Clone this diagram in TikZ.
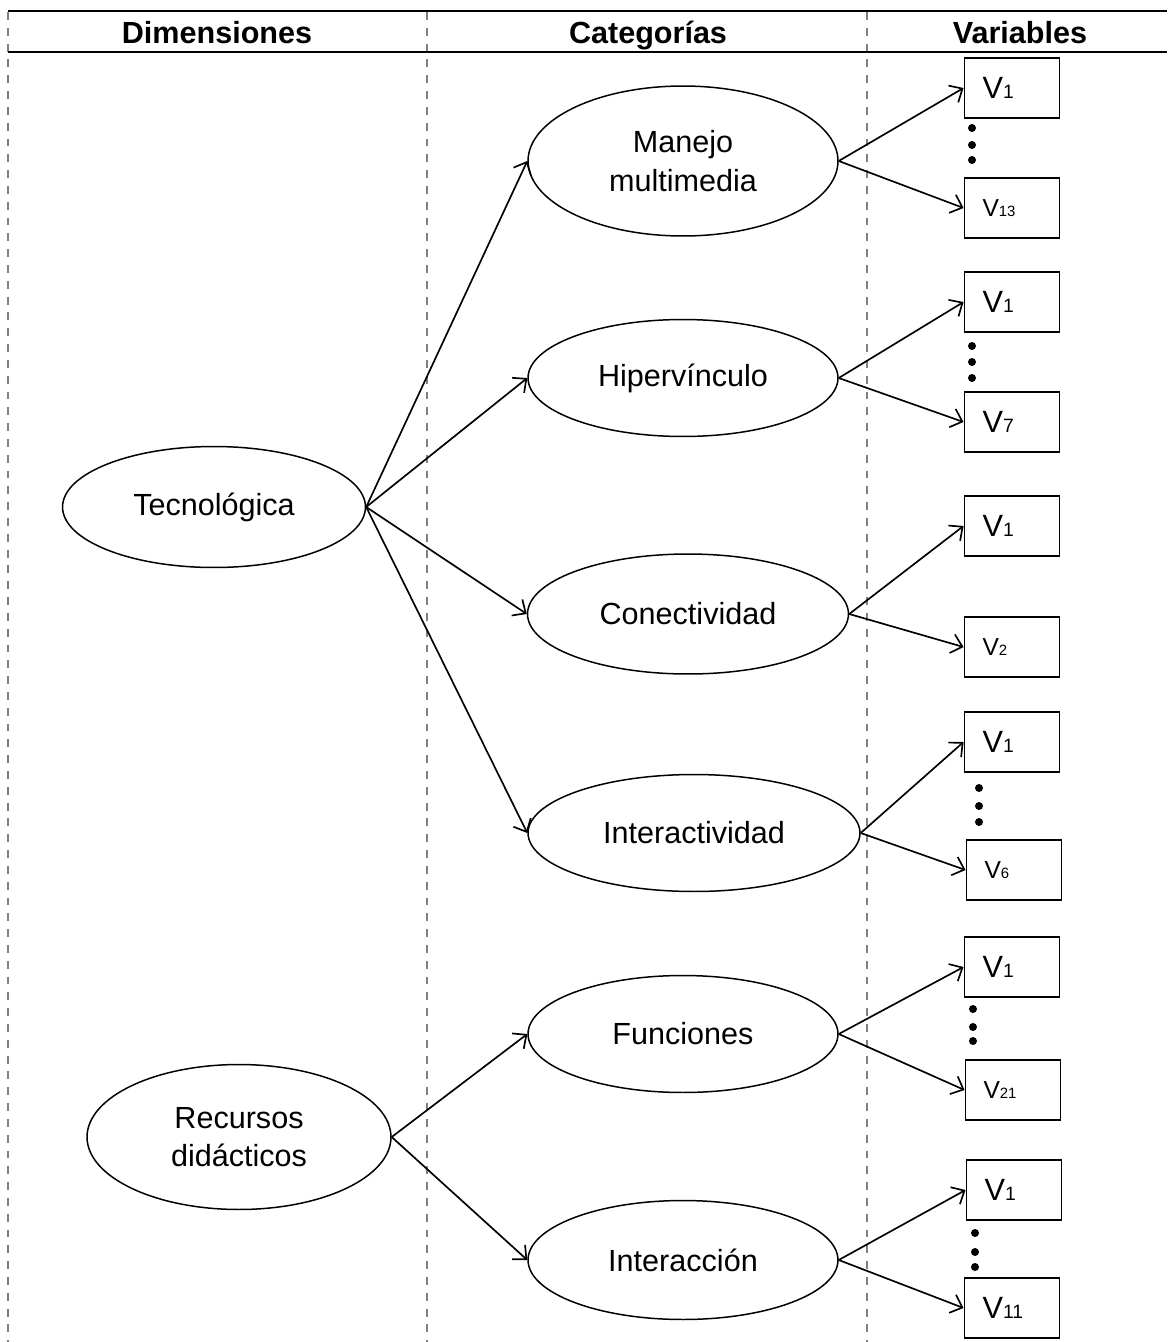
\documentclass[tikz,border=0pt]{standalone}
\usepackage{fontspec}
\setmainfont{Liberation Sans}
\usetikzlibrary{arrows.meta,shapes.geometric}
\newcommand{\VA}[1]{{\fontsize{17.5}{20}\selectfont V}{\fontsize{11}{12}\selectfont #1}}
\newcommand{\VB}[1]{{\fontsize{14}{16}\selectfont V}{\fontsize{8.5}{10}\selectfont #1}}
\begin{document}
\begin{tikzpicture}[x=0.02cm,y=-0.02cm,
  ell/.style n args={2}{ellipse, draw, line width=0.85pt, inner sep=0pt,
     minimum width=#1 cm, minimum height=#2 cm, align=center,
     font=\fontsize{17.4}{22}\selectfont},
  vbox/.style={draw, line width=1.1pt, rectangle, minimum height=1.2cm,
     text width=1.18cm, inner xsep=0.36cm, inner ysep=0pt, align=left},
  arr/.style={line width=0.95pt, -{Straight Barb[length=6pt,width=11pt]}},
  vdash/.style={gray, line width=0.6pt, dash pattern=on 4.5pt off 4.5pt},
  head/.style={anchor=base, font=\bfseries\fontsize{17.4}{20}\selectfont},
  dot/.style={fill=black}]
\useasboundingbox (0,0) rectangle (1167,1342);
% dashed column lines
\draw[vdash] (8,12) -- (8,1342);
\draw[vdash] (427,12) -- (427,1342);
\draw[vdash] (867,12) -- (867,1342);
% header rules
\draw[line width=1.1pt] (8,11) -- (1167,11);
\draw[line width=1.1pt] (8,52) -- (1167,52);
\node[head] (h1) at (217,43) {Dimensiones};
\node[head] (h2) at (648,43) {Categorías};
\node[head] (h3) at (1020,43) {Variables};
% dimensions
\node[ell={6.06}{2.42}] (tec) at (214,507) {Tecnológica};
\node[ell={6.08}{2.90}] (rec) at (239,1137) {Recursos\\didácticos};
% categories
\node[ell={6.2}{3.0}] (mm) at (683,161) {Manejo\\multimedia};
\node[ell={6.2}{2.34}] (hip) at (683,378) {Hipervínculo};
\node[ell={6.42}{2.4}] (con) at (688,614) {Conectividad};
\node[ell={6.64}{2.34}] (int) at (694,833) {Interactividad};
\node[ell={6.2}{2.34}] (fun) at (683,1034) {Funciones};
\node[ell={6.2}{2.38}] (inc) at (683,1260) {Interacción};
% variable boxes
\node[vbox] (b1a) at (1012,88) {\VA{1}};
\node[vbox] (b1b) at (1012,208) {\VB{13}};
\node[vbox] (b2a) at (1012,302) {\VA{1}};
\node[vbox] (b2b) at (1012,422) {\VA{7}};
\node[vbox] (b3a) at (1012,526) {\VA{1}};
\node[vbox] (b3b) at (1012,647) {\VB{2}};
\node[vbox] (b4a) at (1012,742) {\VA{1}};
\node[vbox] (b4b) at (1014,870) {\VB{6}};
\node[vbox] (b5a) at (1012,967) {\VA{1}};
\node[vbox] (b5b) at (1013,1090) {\VB{21}};
\node[vbox] (b6a) at (1014,1190) {\VA{1}};
\node[vbox] (b6b) at (1012,1308) {\VA{11}};
% dots
\foreach \x/\y in {972/128,972/145,972/160,
                   972/346,972/362,972/378,
                   979/788,979/806,979/822,
                   973/1009,973/1027,973/1041,
                   975/1233,975/1252,975/1267}
  \fill[dot] (\x,\y) circle (0.08cm);
% connectors
\draw[arr] (tec.east) -- (mm.west);
\draw[arr] (tec.east) -- (hip.west);
\draw[arr] (tec.east) -- (con.west);
\draw[arr] (tec.east) -- (int.west);
\draw[arr] (rec.east) -- (fun.west);
\draw[arr] (rec.east) -- (inc.west);
\draw[arr] (mm.east) -- (b1a.west);
\draw[arr] (mm.east) -- (b1b.west);
\draw[arr] (hip.east) -- (b2a.west);
\draw[arr] (hip.east) -- (b2b.west);
\draw[arr] (con.east) -- (b3a.west);
\draw[arr] (con.east) -- (b3b.west);
\draw[arr] (int.east) -- (b4a.west);
\draw[arr] (int.east) -- (b4b.west);
\draw[arr] (fun.east) -- (b5a.west);
\draw[arr] (fun.east) -- (b5b.west);
\draw[arr] (inc.east) -- (b6a.west);
\draw[arr] (inc.east) -- (b6b.west);
\end{tikzpicture}
\end{document}
